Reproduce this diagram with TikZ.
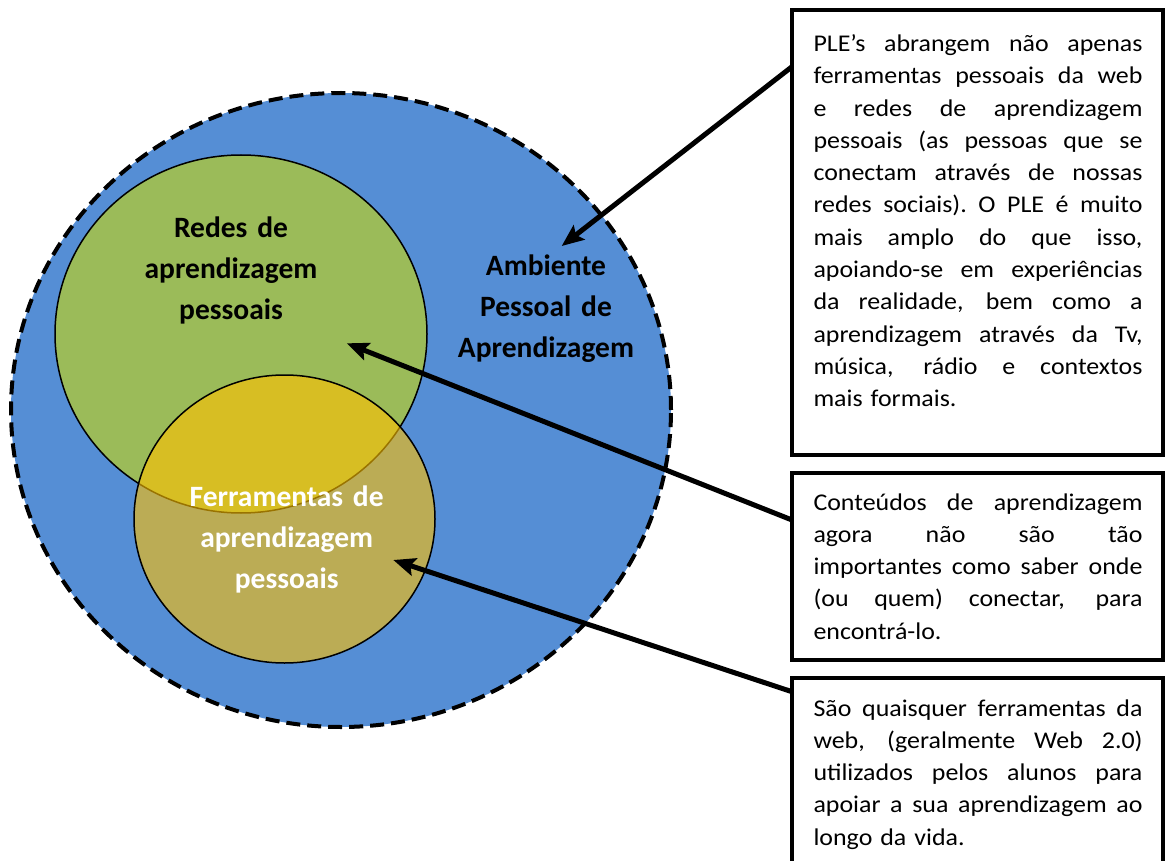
\documentclass[tikz,border=0pt]{standalone}
\usepackage{fontspec}
\setmainfont{Carlito}
\newfontfamily\boxfont{Carlito}[FakeStretch=1.08]
\usetikzlibrary{arrows.meta,shapes.geometric}
\definecolor{pleblue}{RGB}{85,142,213}
\definecolor{plegreen}{RGB}{155,187,89}
\definecolor{pleyellow}{RGB}{255,192,0}
\newlength{\boxtextw}
\setlength{\boxtextw}{329pt}
\newcommand{\jline}[1]{\leavevmode\hbox to \boxtextw{\spaceskip=0.23em plus 1fil\relax\xspaceskip=\spaceskip #1}}
\begin{document}
\begin{tikzpicture}[x=1pt,y=-1pt,
  region/.style={ellipse, inner sep=0pt, outer sep=0pt},
  biglabel/.style={font=\bfseries\fontsize{29.5}{41}\selectfont, text width=260pt, align=center, inner sep=0pt, anchor=base},
  infobox/.style={draw=black, line width=4pt, inner sep=0pt, outer sep=0pt, anchor=north west, minimum width=371pt},
  infotext/.style={font=\boxfont\fontsize{24}{32.3}\selectfont, text width=\boxtextw, align=left, inner sep=0pt, anchor=base west},
  pointer/.style={line width=5pt, -{Stealth[length=22pt,width=18pt,inset=4pt]}}
]
\useasboundingbox (0,0) rectangle (1165,861);
\clip (0,0) rectangle (1165,861);

% regions
\node[region, fill=pleblue, draw=black, line width=4pt, dash pattern=on 14pt off 7pt,
      minimum width=660pt, minimum height=634pt] (ple) at (341,410) {};
\node[region, fill=plegreen, draw=black, line width=1.5pt,
      minimum width=372pt, minimum height=358pt] (redes) at (241,334) {};
\node[region, fill=pleyellow, fill opacity=0.6, draw=black, line width=1.5pt,
      minimum width=301pt, minimum height=288pt] (ferr) at (284.5,519) {};

% labels
\node[biglabel] (lredes) at (231,238) {Redes de\\aprendizagem\\pessoais};
\node[biglabel] (lple) at (546,276) {Ambiente\\Pessoal de\\Aprendizagem};
\node[biglabel, text=white] (lferr) at (286.7,506.7) {Ferramentas de\\aprendizagem\\pessoais};

% boxes
\node[infobox, minimum height=445pt] (box1) at (792,10) {};
\node[infobox, minimum height=186.7pt] (box2) at (792,473.3) {};
\node[infobox, minimum height=260pt] (box3) at (792,678.3) {};

\node[infotext] (t1) at (813.3,51.5) {%
\jline{PLE’s abrangem não apenas}\\
\jline{ferramentas pessoais da web}\\
\jline{e redes de aprendizagem}\\
\jline{pessoais (as pessoas que se}\\
\jline{conectam através de nossas}\\
\jline{redes sociais). O PLE é muito}\\
\jline{mais amplo do que isso,}\\
\jline{apoiando-se em experiências}\\
\jline{da realidade, bem como a}\\
\jline{aprendizagem através da Tv,}\\
\jline{música, rádio e contextos}\\
mais formais.};

\node[infotext] (t2) at (813.3,510) {%
\jline{Conteúdos de aprendizagem}\\
\jline{agora não são tão}\\
\jline{importantes como saber onde}\\
\jline{(ou quem) conectar, para}\\
encontrá-lo.};

\node[infotext] (t3) at (813.3,716) {%
\jline{São quaisquer ferramentas da}\\
\jline{web, (geralmente Web 2.0)}\\
\jline{utilizados pelos alunos para}\\
\jline{apoiar a sua aprendizagem ao}\\
longo da vida.};

% arrow targets
\coordinate (tip1) at (561.7,246);
\coordinate (tip2) at (346.7,343.3);
\coordinate (tip3) at (393.3,560);

\draw[pointer] ([yshift=-56.7pt]box1.north west) -- (tip1);
\draw[pointer] ([yshift=-46.7pt]box2.north west) -- (tip2);
\draw[pointer] ([yshift=-13.4pt]box3.north west) -- (tip3);
\end{tikzpicture}
\end{document}
